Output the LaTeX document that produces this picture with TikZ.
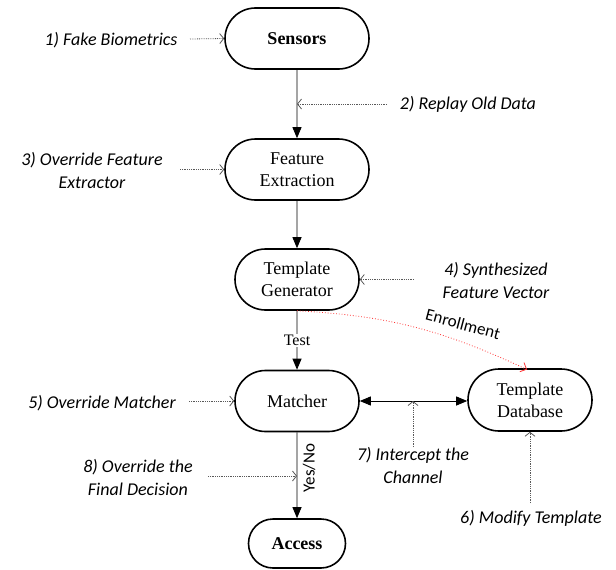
\documentclass[tikz,border=0pt]{standalone}
\usepackage{fontspec}
\setmainfont{Liberation Serif}
\newfontfamily\calfont{Carlito}
\usetikzlibrary{arrows.meta,shapes.misc}

\begin{document}
\begin{tikzpicture}[x=1pt,y=-1pt,
  block/.style={draw, line width=1.6pt, rounded rectangle, inner sep=0pt,
    minimum height=61pt, align=center,
    font=\fontsize{18}{22}\selectfont},
  flow/.style={line width=0.9pt, -{Triangle[length=11pt,width=9pt]}},
  twoway/.style={line width=0.9pt, {Triangle[length=11pt,width=9pt]}-{Triangle[length=11pt,width=9pt]}},
  attack/.style={densely dotted, line width=0.8pt, black!65,
    -{Straight Barb[length=4pt,width=10pt]}},
  enroll/.style={dotted, line width=0.8pt, red!80,
    -{Straight Barb[length=5pt,width=10pt]}},
  threat/.style={font=\calfont\itshape\fontsize{18}{23}\selectfont, align=center},
  tag/.style={font=\calfont\fontsize{17}{20}\selectfont}
]
\useasboundingbox (0,0) rectangle (616,570);

% processing pipeline
\node[block, minimum width=144pt] (sensors) at (297,38.5) {\textbf{Sensors}};
\node[block, minimum width=144pt] (fe) at (297,169.5) {Feature\\Extraction};
\node[block, minimum width=124pt] (tg) at (297,279.5) {Template\\Generator};
\node[block, minimum width=124pt] (matcher) at (297,401) {Matcher};
\node[block, minimum width=124pt, minimum height=62pt] (td) at (530,400) {Template\\Database};
\node[block, minimum width=97pt, minimum height=49pt] (access) at (297,543.5) {\textbf{Access}};

\draw[flow] (sensors) -- (fe);
\draw[flow] (fe) -- (tg);
\draw[flow] (tg) -- node[fill=white, inner sep=1pt, font=\fontsize{16}{18}\selectfont] (test) {Test} (matcher);
\draw[flow] (matcher) -- (access);
\draw[twoway] (matcher.east) -- (td.west |- matcher.east);
\node[tag, rotate=90] (yesno) at (309,468) {Yes/No};

% enrollment path
\coordinate (tdtop) at (527,369.5);
\draw[enroll] (tg.south) to[out=-3, in=155] (tdtop);
\node[tag, rotate=-15] (enr) at (463,324) {Enrollment};

% attack points
\node[threat] (a1) at (111,40) {1) Fake Biometrics};
\node[threat] (a2) at (468,104) {2) Replay Old Data};
\node[threat] (a3) at (92,170) {3) Override Feature\\Extractor};
\node[threat] (a4) at (496,280) {4) Synthesized\\Feature Vector};
\node[threat] (a5) at (102,403) {5) Override Matcher};
\node[threat] (a6) at (531,518) {6) Modify Template};
\node[threat] (a7) at (413,465) {7) Intercept the\\Channel};
\node[threat] (a8) at (138,477) {8) Override the\\Final Decision};

\coordinate (s1) at (190,39);
\coordinate (s2) at (387,104);
\coordinate (e2) at (297,104);
\coordinate (s3) at (180,169.5);
\coordinate (s4) at (414,279.5);
\coordinate (s5) at (189,401);
\coordinate (s6) at (530,503);
\coordinate (s7) at (413,447);
\coordinate (e7) at (413,401);
\coordinate (s8) at (208,476);
\coordinate (e8) at (297,476);

\draw[attack] (s1) -- (sensors.west);
\draw[attack] (s2) -- (e2);
\draw[attack] (s3) -- (fe.west);
\draw[attack] (s4) -- (tg.east);
\draw[attack] (s5) -- (matcher.west);
\draw[attack] (s6) -- (td.south);
\draw[attack] (s7) -- (e7);
\draw[attack] (s8) -- (e8);
\end{tikzpicture}
\end{document}
